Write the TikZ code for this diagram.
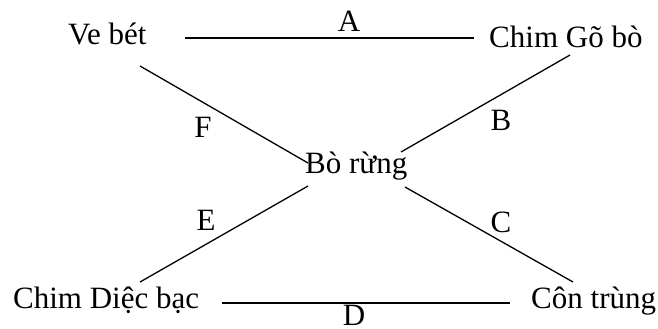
\documentclass[tikz,border=0pt]{standalone}
\usepackage{fontspec}
\setmainfont{Liberation Serif}
\begin{document}
\begin{tikzpicture}[x=1pt,y=1pt,
  lbl/.style={inner sep=0pt,font=\fontsize{31}{33}\selectfont},
  edgelbl/.style={inner sep=0pt,anchor=base,font=\fontsize{31}{33}\selectfont},
  conn/.style={line width=1.3pt}]
\useasboundingbox (0,0) rectangle (658,-329);
% species nodes
\node[lbl,anchor=base west] (vebet) at (68,-45) {Ve bét};
\node[lbl,anchor=base west] (chimgo) at (489,-48) {Chim Gõ bò};
\node[lbl,anchor=base west] (borung) at (305,-173) {Bò rừng};
\node[lbl,anchor=base west] (chimdiec) at (13,-308) {Chim Diệc bạc};
\node[lbl,anchor=base west] (contrung) at (531,-308) {Côn trùng};
% connector ends
\coordinate (a1) at (185,-38);  \coordinate (a2) at (474,-38);
\coordinate (b1) at (570,-55);  \coordinate (b2) at (401,-152);
\coordinate (f1) at (140,-66);  \coordinate (f2) at (308,-163);
\coordinate (e1) at (308,-186); \coordinate (e2) at (140,-282);
\coordinate (c1) at (405,-187); \coordinate (c2) at (573,-282);
\coordinate (d1) at (222,-303); \coordinate (d2) at (510,-303);
% connectors
\draw[conn] (a1) -- (a2);
\draw[conn] (b1) -- (b2);
\draw[conn] (f1) -- (f2);
\draw[conn] (e1) -- (e2);
\draw[conn] (c1) -- (c2);
\draw[conn] (d1) -- (d2);
% edge labels
\node[edgelbl] (la) at (349,-32) {A};
\node[edgelbl] (lb) at (501,-130) {B};
\node[edgelbl] (lc) at (501,-232) {C};
\node[edgelbl] (ld) at (354,-325) {D};
\node[edgelbl] (le) at (206,-230) {E};
\node[edgelbl] (lf) at (203,-137) {F};
\end{tikzpicture}
\end{document}
